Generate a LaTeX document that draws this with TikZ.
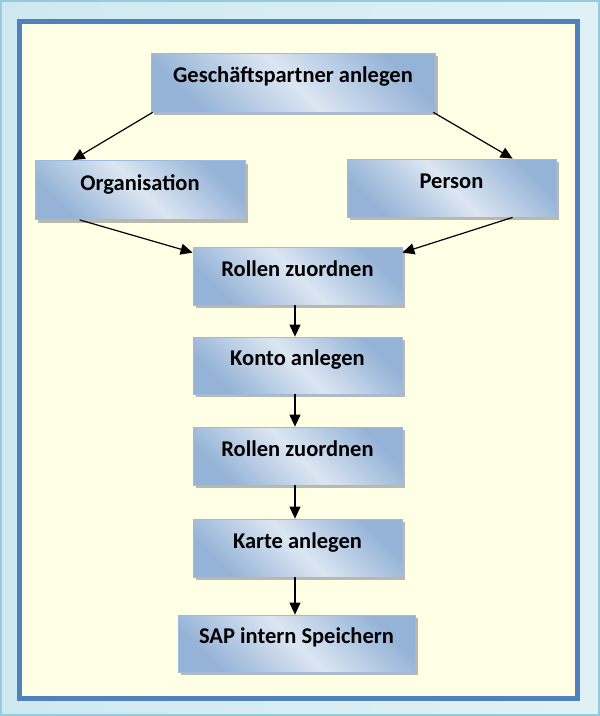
\documentclass[tikz,border=0pt]{standalone}
\usepackage{fontspec}
\setmainfont{Carlito}
\usetikzlibrary{shadows,arrows.meta,calc}
\definecolor{boxlight}{HTML}{DCE6F2}
\definecolor{boxdark}{HTML}{95B3D7}
\definecolor{boxline}{HTML}{9DBBE0}
\definecolor{frameblue}{HTML}{4F81BD}
\definecolor{paper}{HTML}{FFFFE5}
\definecolor{outerA}{HTML}{CFE8F0}
\definecolor{outerB}{HTML}{E0F1F6}
\definecolor{outerline}{HTML}{93CDDD}
\begin{document}
\begin{tikzpicture}[x=1pt,y=-1pt,
  boxnode/.style={draw=boxline, line width=0.8pt, inner sep=0pt,
    top color=boxdark, bottom color=boxdark, middle color=boxlight, shading angle=-45,
    drop shadow={shadow xshift=3pt, shadow yshift=-3pt, fill=black!50, opacity=0.55},
    font=\fontsize{22.5}{26}\selectfont\bfseries, text height=15pt, text depth=15pt},
  arr/.style={-{Triangle[length=12pt,width=11pt]}, line width=1.2pt, black}]
\useasboundingbox (0,0) rectangle (600,716);
\shade[left color=outerA, right color=outerB, draw=outerline, line width=2pt] (1,1) rectangle (599,715);
\draw[frameblue, fill=paper, line width=5pt] (19.5,21.5) rectangle (577.5,698.5);

\node[boxnode, minimum width=284pt, minimum height=59pt] (gp) at (293,82.5) {Geschäftspartner anlegen};
\node[boxnode, minimum width=210pt, minimum height=59pt] (org) at (140,190) {Organisation};
\node[boxnode, minimum width=209pt, minimum height=58pt] (per) at (451.5,188) {Person};
\node[boxnode, minimum width=209pt, minimum height=58pt] (r1) at (297.5,276) {Rollen zuordnen};
\node[boxnode, minimum width=209pt, minimum height=57pt] (konto) at (297.5,365.5) {Konto anlegen};
\node[boxnode, minimum width=209pt, minimum height=58pt] (r2) at (297.5,456) {Rollen zuordnen};
\node[boxnode, minimum width=209pt, minimum height=58pt] (karte) at (297.5,548) {Karte anlegen};
\node[boxnode, minimum width=237pt, minimum height=57pt] (sap) at (296.5,643.5) {SAP intern Speichern};

\draw[arr] ([xshift=2pt]gp.south west) -- ([xshift=38pt]org.north west);
\draw[arr] ([xshift=-2pt]gp.south east) -- ([xshift=166pt]per.north west);
\draw[arr] ([xshift=45pt]org.south west) -- ([yshift=-6pt]r1.north west);
\draw[arr] ([xshift=166pt]per.south west) -- ([yshift=-6pt]r1.north east);
\draw[arr] ([xshift=-2.5pt]r1.south) -- ([xshift=-2.5pt]konto.north);
\draw[arr] ([xshift=-2.5pt]konto.south) -- ([xshift=-2.5pt]r2.north);
\draw[arr] ([xshift=-2.5pt]r2.south) -- ([xshift=-2.5pt]karte.north);
\draw[arr] ([xshift=-2.5pt]karte.south) -- ([xshift=-1.5pt]sap.north);
\end{tikzpicture}
\end{document}
